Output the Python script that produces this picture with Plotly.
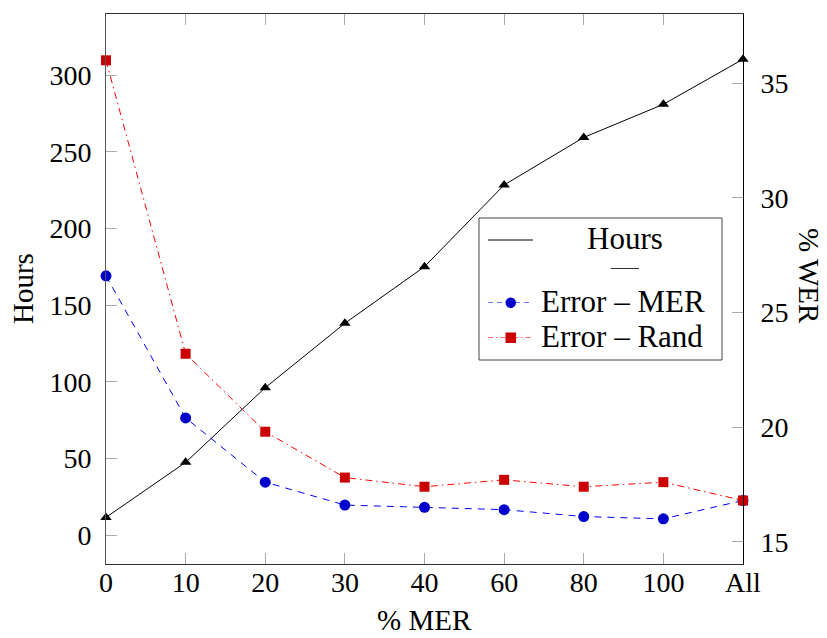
import plotly.graph_objects as go

# MER percentage (x categories)
categories = ["0", "10", "20", "30", "40", "60", "80", "100", "All"]
# Training hours per configuration (left axis)
hours = [11.5, 47.4, 96.1, 138.1, 175.0, 228.3, 259.3, 280.9, 310.3]
# Word error rate (right axis)
wer_mer = [26.6, 20.4, 17.6, 16.6, 16.5, 16.4, 16.1, 16.0, 16.8]
wer_rand = [36.0, 23.2, 19.8, 17.8, 17.4, 17.7, 17.4, 17.6, 16.8]

W, H = 827, 638
L, R, T, B = 106, 84, 14, 74
FONT = "Liberation Serif, Times New Roman, serif"
FS_TICK = 28
FS_LABEL = 29
FS_LEG = 31


def px(x):
    return (x - L) / (W - L - R)


def py(y):
    return (H - B - y) / (H - T - B)


fig = go.Figure()

fig.add_trace(go.Scatter(
    x=categories, y=hours, name="Hours", mode="lines+markers",
    line=dict(color="black", width=1),
    marker=dict(symbol="triangle-up", size=10, color="black"),
    cliponaxis=False, yaxis="y", showlegend=False))

fig.add_trace(go.Scatter(
    x=categories, y=wer_mer, name="Error – MER", mode="lines+markers",
    line=dict(color="#0000ff", width=1, dash="7px,6px"),
    marker=dict(symbol="circle", size=11, color="#0000cc"),
    cliponaxis=False, yaxis="y2", showlegend=False))

fig.add_trace(go.Scatter(
    x=categories, y=wer_rand, name="Error – Rand", mode="lines+markers",
    line=dict(color="#ff0000", width=1, dash="7px,4px,1.5px,4px"),
    marker=dict(symbol="square", size=10, color="#cc0000"),
    cliponaxis=False, yaxis="y2", showlegend=False))

tickfont = dict(family=FONT, size=FS_TICK, color="black")

fig.update_layout(
    width=W, height=H,
    margin=dict(l=L, r=R, t=T, b=B, autoexpand=False),
    paper_bgcolor="white", plot_bgcolor="white",
    font=dict(family=FONT, size=FS_TICK, color="black"),
    xaxis=dict(
        type="category", range=[0, 8], showgrid=False, zeroline=False,
        showline=True, linecolor="#333333", linewidth=1, mirror="ticks",
        ticks="inside", ticklen=11, tickcolor="#aaaaaa", tickwidth=1,
        tickfont=tickfont, ticklabelstandoff=-7, automargin=False,
    ),
    yaxis=dict(
        range=[-18.9, 339.8], tickvals=[0, 50, 100, 150, 200, 250, 300],
        showgrid=False, zeroline=False,
        showline=True, linecolor="#555555", linewidth=1,
        ticks="inside", ticklen=11, tickcolor="#aaaaaa", tickwidth=1,
        tickfont=tickfont, ticklabelstandoff=8, automargin=False,
    ),
    yaxis2=dict(
        overlaying="y", side="right", range=[14.03, 38.02],
        tickvals=[15, 20, 25, 30, 35],
        showgrid=False, zeroline=False,
        showline=True, linecolor="black", linewidth=1,
        ticks="inside", ticklen=11, tickcolor="#aaaaaa", tickwidth=1,
        tickfont=tickfont, ticklabelstandoff=11, automargin=False,
    ),
    showlegend=False,
)

annotations = [
    dict(text="Hours", x=px(23), y=py(289), xref="paper", yref="paper",
         textangle=-90, showarrow=False, xanchor="center", yanchor="middle",
         borderpad=0, font=dict(family=FONT, size=FS_LABEL)),
    dict(text="% WER", x=px(809), y=py(276), xref="paper", yref="paper",
         textangle=90, showarrow=False, xanchor="center", yanchor="middle",
         borderpad=0, font=dict(family=FONT, size=FS_LABEL)),
    dict(text="% MER", x=px(425), y=py(620), xref="paper", yref="paper",
         showarrow=False, xanchor="center", yanchor="middle", borderpad=0,
         font=dict(family=FONT, size=FS_LABEL)),
]

shapes = []

# legend box
shapes.append(dict(type="rect", xref="paper", yref="paper",
                   x0=px(479), x1=px(722), y0=py(218), y1=py(360),
                   line=dict(color="#444444", width=1), fillcolor="white",
                   layer="above"))

# Hours entry
shapes.append(dict(type="line", xref="paper", yref="paper",
                   x0=px(488), x1=px(533), y0=py(240), y1=py(240),
                   line=dict(color="black", width=1), layer="above"))
annotations.append(dict(text="Hours", x=px(624.5), y=py(239), xref="paper", yref="paper",
                        showarrow=False, xanchor="center", yanchor="middle", borderpad=0,
                        font=dict(family=FONT, size=FS_LEG)))
# empty entry from the second axis
shapes.append(dict(type="line", xref="paper", yref="paper",
                   x0=px(611), x1=px(639), y0=py(268.5), y1=py(268.5),
                   line=dict(color="#333333", width=1), layer="above"))

# Error – MER entry
shapes.append(dict(type="line", xref="paper", yref="paper",
                   x0=px(488), x1=px(530), y0=py(302.5), y1=py(302.5),
                   line=dict(color="#7070ff", width=1, dash="5px,4px"), layer="above"))
shapes.append(dict(type="circle", xref="paper", yref="paper",
                   x0=px(505.5), x1=px(516), y0=py(297.5), y1=py(308),
                   line=dict(color="#0000cc", width=0), fillcolor="#0000cc", layer="above"))
annotations.append(dict(text="Error – MER", x=px(540), y=py(301.5), xref="paper", yref="paper",
                        showarrow=False, xanchor="left", yanchor="middle", borderpad=0,
                        font=dict(family=FONT, size=FS_LEG)))

# Error – Rand entry
shapes.append(dict(type="line", xref="paper", yref="paper",
                   x0=px(488), x1=px(532), y0=py(337.5), y1=py(337.5),
                   line=dict(color="#ff6060", width=1, dash="5px,3px,1.5px,3px"), layer="above"))
shapes.append(dict(type="rect", xref="paper", yref="paper",
                   x0=px(505.5), x1=px(516), y0=py(332.5), y1=py(343),
                   line=dict(color="#cc0000", width=0), fillcolor="#cc0000", layer="above"))
annotations.append(dict(text="Error – Rand", x=px(540), y=py(336.5), xref="paper", yref="paper",
                        showarrow=False, xanchor="left", yanchor="middle", borderpad=0,
                        font=dict(family=FONT, size=FS_LEG)))

fig.update_layout(shapes=shapes, annotations=annotations)

fig.write_html("out.html")
